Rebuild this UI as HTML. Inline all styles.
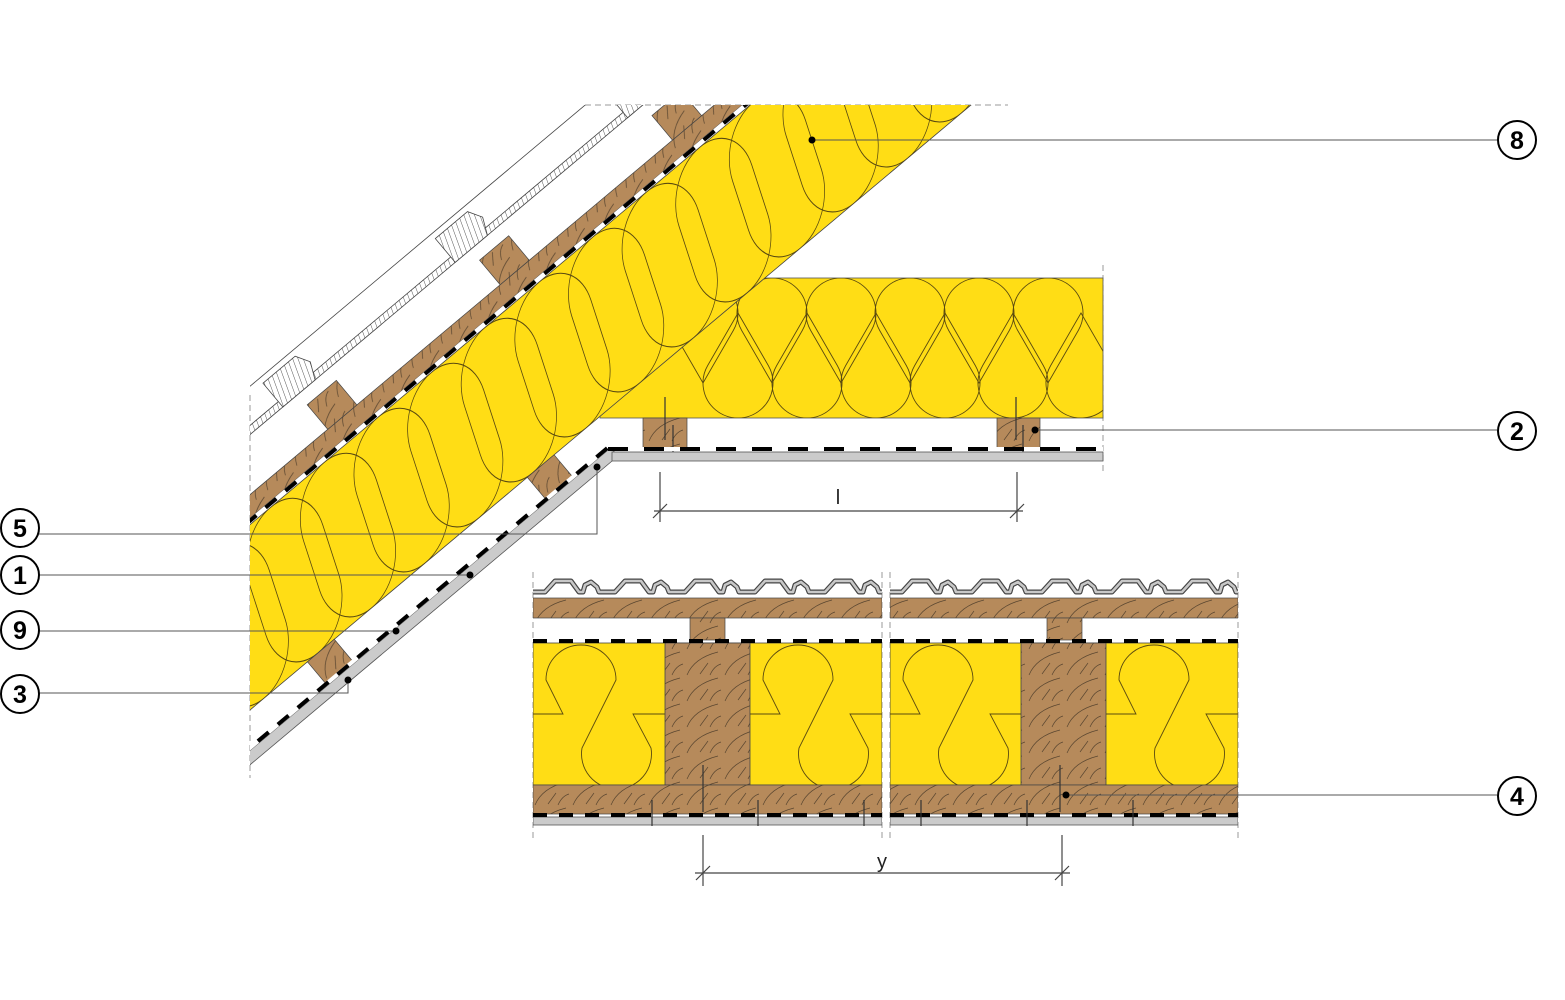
<!DOCTYPE html>
<html><head><meta charset="utf-8"><style>
html,body{margin:0;padding:0;background:#fff;}
svg{display:block;}
text{font-family:"Liberation Sans",sans-serif;}
</style></head><body>
<svg width="1565" height="1000" viewBox="0 0 1565 1000" xmlns="http://www.w3.org/2000/svg">
<defs>
  <pattern id="wood" patternUnits="userSpaceOnUse" width="38" height="26">
    <rect width="38" height="26" fill="#B68A5B"/>
    <path d="M3,25 Q10,8 34,2 M16,24 L24,13 M26,25 Q30,16 37,14" fill="none" stroke="#5a4630" stroke-width="0.7"/>
  </pattern>
  <pattern id="hatch" patternUnits="userSpaceOnUse" width="5" height="5" patternTransform="rotate(20)">
    <rect width="5" height="5" fill="#fff"/>
    <line x1="0" y1="0" x2="0" y2="5" stroke="#444" stroke-width="0.9"/>
  </pattern>
  <path id="tdDown" d="M0,70 L30.3,17.5 A35,35 0 1 0 -30.3,17.5 Z" fill="none" stroke="#5a4a10" stroke-width="0.9"/>
  <path id="tdUp" d="M0,-70 L30.3,-17.5 A35,35 0 1 1 -30.3,-17.5 Z" fill="none" stroke="#5a4a10" stroke-width="0.9"/>
  <clipPath id="cs"><rect x="250" y="105" width="900" height="720"/></clipPath>
  <clipPath id="ch"><rect x="600" y="278" width="503" height="140"/></clipPath>
  <clipPath id="cy"><rect x="-300" y="-142" width="1500" height="142"/></clipPath>
  <clipPath id="cp1"><rect x="533" y="570" width="349" height="270"/></clipPath>
  <clipPath id="cp2"><rect x="890" y="570" width="348" height="270"/></clipPath>
  <path id="keyhole" d="M0,71 L30,71 L13,37 A35,35 0 1 1 83,37 L49,105 A35,35 0 1 0 118,105 L100,71 L132,71" fill="none" stroke="#5a4a10" stroke-width="0.9"/>
  <path id="tprof" d="M0,13 L12,13 L22,2 L38,2 L46,13 L50,13 L52,6 L58,3 L64,8 L66,13 L70,13" fill="none" stroke="#444" stroke-width="5" stroke-linejoin="round"/>
  <path id="tprof2" d="M0,13 L12,13 L22,2 L38,2 L46,13 L50,13 L52,6 L58,3 L64,8 L66,13 L70,13" fill="none" stroke="#c8c8c8" stroke-width="2.6" stroke-linejoin="round"/>
</defs>

<line x1="585" y1="105" x2="1008" y2="105" stroke="#999" stroke-width="1" stroke-dasharray="6 4"/>
<line x1="250" y1="395" x2="250" y2="778" stroke="#999" stroke-width="1" stroke-dasharray="6 4"/>
<line x1="1103" y1="265" x2="1103" y2="475" stroke="#999" stroke-width="1" stroke-dasharray="6 4"/>

<rect x="600" y="278" width="503" height="140" fill="#FFDD15" stroke="#555" stroke-width="0.8"/>
<g clip-path="url(#ch)">
  <use href="#tdDown" x="703" y="313"/><use href="#tdDown" x="772" y="313"/><use href="#tdDown" x="841" y="313"/>
  <use href="#tdDown" x="910" y="313"/><use href="#tdDown" x="979" y="313"/><use href="#tdDown" x="1048" y="313"/>
  <use href="#tdUp" x="738" y="383"/><use href="#tdUp" x="807" y="383"/><use href="#tdUp" x="876" y="383"/>
  <use href="#tdUp" x="945" y="383"/><use href="#tdUp" x="1013" y="383"/><use href="#tdUp" x="1081" y="383"/>
</g>

<g clip-path="url(#cs)">
 <g transform="translate(250,710) rotate(-40)">
  <g stroke="#444" stroke-width="0.8">
    <rect x="-300" y="-218" width="1500" height="7" fill="url(#hatch)"/>
    <g fill="url(#hatch)">
      <path d="M-10,-211 L-10,-240 L30,-240 L38,-228 L30,-211 Z"/>
      <path d="M220,-211 L220,-242 L262,-242 L270,-228 L262,-211 Z"/>
      <path d="M445,-211 L445,-242 L487,-242 L495,-228 L487,-211 Z"/>
      <path d="M670,-211 L670,-242 L712,-242 L720,-228 L712,-211 Z"/>
      <path d="M895,-211 L895,-242 L937,-242 L945,-228 L937,-211 Z"/>
    </g>
    <path d="M-300,-248 L1200,-248" fill="none"/>
  </g>
  <rect x="-300" y="-165" width="1500" height="18" fill="url(#wood)" stroke="#444" stroke-width="0.7"/>
  <g fill="url(#wood)" stroke="#444" stroke-width="0.7">
    <rect x="15" y="-197" width="38" height="32"/>
    <rect x="240" y="-197" width="38" height="32"/>
    <rect x="465" y="-197" width="38" height="32"/>
    <rect x="690" y="-197" width="38" height="32"/>
  </g>
  <line x1="-300" y1="-145" x2="1200" y2="-145" stroke="#fff" stroke-width="4"/>
  <line x1="-300" y1="-145" x2="1200" y2="-145" stroke="#000" stroke-width="4" stroke-dasharray="14 12"/>
  <rect x="-300" y="-142" width="1500" height="142" fill="#FFDD15" stroke="#444" stroke-width="0.8"/>
  <g clip-path="url(#cy)">
  <g transform="translate(0,-71) skewX(-22) translate(0,71)" fill="none" stroke="#5a4a10" stroke-width="0.9">
    <rect x="-140" y="-142" width="95" height="142" rx="47"/><rect x="-70" y="-142" width="95" height="142" rx="47"/>
    <rect x="0" y="-142" width="95" height="142" rx="47"/><rect x="70" y="-142" width="95" height="142" rx="47"/>
    <rect x="140" y="-142" width="95" height="142" rx="47"/><rect x="210" y="-142" width="95" height="142" rx="47"/>
    <rect x="280" y="-142" width="95" height="142" rx="47"/><rect x="350" y="-142" width="95" height="142" rx="47"/>
    <rect x="420" y="-142" width="95" height="142" rx="47"/><rect x="490" y="-142" width="95" height="142" rx="47"/>
    <rect x="560" y="-142" width="95" height="142" rx="47"/><rect x="630" y="-142" width="95" height="142" rx="47"/>
    <rect x="700" y="-142" width="95" height="142" rx="47"/><rect x="770" y="-142" width="95" height="142" rx="47"/>
    <rect x="840" y="-142" width="95" height="142" rx="47"/><rect x="910" y="-142" width="95" height="142" rx="47"/>
    <rect x="980" y="-142" width="95" height="142" rx="47"/><rect x="1050" y="-142" width="95" height="142" rx="47"/>
  </g>
  </g>
  <g fill="url(#wood)" stroke="#444" stroke-width="0.7">
    <rect x="75" y="0" width="35" height="28"/>
    <rect x="362" y="0" width="35" height="28"/>
  </g>
  <rect x="-300" y="31" width="745" height="11" fill="#cbcbcb" stroke="#555" stroke-width="0.8"/>
  <line x1="-300" y1="29" x2="442" y2="29" stroke="#fff" stroke-width="4"/>
  <line x1="-300" y1="29" x2="442" y2="29" stroke="#000" stroke-width="4" stroke-dasharray="14 12"/>
 </g>
</g>

<rect x="643" y="418" width="44" height="31" fill="url(#wood)" stroke="#444" stroke-width="0.7"/>
<rect x="997" y="418" width="43" height="31" fill="url(#wood)" stroke="#444" stroke-width="0.7"/>
<g stroke="#333" stroke-width="1.2">
  <line x1="665" y1="397" x2="665" y2="440"/><line x1="673" y1="425" x2="673" y2="461"/>
  <line x1="1016" y1="397" x2="1016" y2="440"/><line x1="1023" y1="425" x2="1023" y2="461"/>
</g>
<rect x="612" y="452" width="491" height="9" fill="#cbcbcb" stroke="#555" stroke-width="0.8"/>
<line x1="608" y1="449" x2="1103" y2="449" stroke="#fff" stroke-width="4"/>
<line x1="608" y1="449" x2="1103" y2="449" stroke="#000" stroke-width="4" stroke-dasharray="20 16"/>

<g stroke="#444" stroke-width="1.2">
  <line x1="660" y1="472" x2="660" y2="522"/><line x1="1017" y1="472" x2="1017" y2="522"/>
  <line x1="654" y1="511" x2="1023" y2="511"/>
  <line x1="653" y1="518" x2="667" y2="504"/><line x1="1010" y1="518" x2="1024" y2="504"/>
</g>
<text x="838" y="504" font-size="20" text-anchor="middle" fill="#222">l</text>

<g stroke="#999" stroke-width="1" stroke-dasharray="6 4">
  <line x1="533" y1="572" x2="533" y2="840"/><line x1="882" y1="572" x2="882" y2="840"/>
  <line x1="890" y1="572" x2="890" y2="840"/><line x1="1238" y1="572" x2="1238" y2="840"/>
</g>
<g clip-path="url(#cp1)">
  <g transform="translate(533,579)">
    <use href="#tprof"/><use href="#tprof" x="70"/><use href="#tprof" x="140"/><use href="#tprof" x="210"/><use href="#tprof" x="280"/>
    <use href="#tprof2"/><use href="#tprof2" x="70"/><use href="#tprof2" x="140"/><use href="#tprof2" x="210"/><use href="#tprof2" x="280"/>
  </g>
  <rect x="533" y="598" width="349" height="20" fill="url(#wood)" stroke="#444" stroke-width="0.7"/>
  <rect x="690" y="618" width="35" height="22" fill="url(#wood)" stroke="#444" stroke-width="0.7"/>
  <rect x="533" y="643" width="349" height="142" fill="#FFDD15" stroke="#444" stroke-width="0.8"/>
  <use href="#keyhole" x="533" y="643"/><use href="#keyhole" x="750" y="643"/>
  <rect x="665" y="643" width="85" height="142" fill="url(#wood)" stroke="#444" stroke-width="0.8"/>
  <rect x="533" y="785" width="349" height="29" fill="url(#wood)" stroke="#444" stroke-width="0.7"/>
  <rect x="533" y="817" width="349" height="8" fill="#cbcbcb" stroke="#555" stroke-width="0.8"/>
  <line x1="533" y1="641" x2="882" y2="641" stroke="#000" stroke-width="4" stroke-dasharray="14 12"/>
  <line x1="533" y1="815" x2="882" y2="815" stroke="#000" stroke-width="4" stroke-dasharray="14 12"/>
  <g stroke="#333" stroke-width="1.2"><line x1="703" y1="765" x2="703" y2="812"/><line x1="652" y1="800" x2="652" y2="826"/><line x1="758" y1="800" x2="758" y2="826"/><line x1="864" y1="800" x2="864" y2="826"/></g>
</g>
<g clip-path="url(#cp2)">
  <g transform="translate(890,579)">
    <use href="#tprof"/><use href="#tprof" x="70"/><use href="#tprof" x="140"/><use href="#tprof" x="210"/><use href="#tprof" x="280"/>
    <use href="#tprof2"/><use href="#tprof2" x="70"/><use href="#tprof2" x="140"/><use href="#tprof2" x="210"/><use href="#tprof2" x="280"/>
  </g>
  <rect x="890" y="598" width="348" height="20" fill="url(#wood)" stroke="#444" stroke-width="0.7"/>
  <rect x="1047" y="618" width="35" height="22" fill="url(#wood)" stroke="#444" stroke-width="0.7"/>
  <rect x="890" y="643" width="348" height="142" fill="#FFDD15" stroke="#444" stroke-width="0.8"/>
  <use href="#keyhole" x="890" y="643"/><use href="#keyhole" x="1106" y="643"/>
  <rect x="1021" y="643" width="85" height="142" fill="url(#wood)" stroke="#444" stroke-width="0.8"/>
  <rect x="890" y="785" width="348" height="29" fill="url(#wood)" stroke="#444" stroke-width="0.7"/>
  <rect x="890" y="817" width="348" height="8" fill="#cbcbcb" stroke="#555" stroke-width="0.8"/>
  <line x1="890" y1="641" x2="1238" y2="641" stroke="#000" stroke-width="4" stroke-dasharray="14 12"/>
  <line x1="890" y1="815" x2="1238" y2="815" stroke="#000" stroke-width="4" stroke-dasharray="14 12"/>
  <g stroke="#333" stroke-width="1.2"><line x1="1060" y1="765" x2="1060" y2="812"/><line x1="921" y1="800" x2="921" y2="826"/><line x1="1027" y1="800" x2="1027" y2="826"/><line x1="1133" y1="800" x2="1133" y2="826"/></g>
</g>

<g stroke="#444" stroke-width="1.2">
  <line x1="703" y1="835" x2="703" y2="886"/><line x1="1062" y1="835" x2="1062" y2="886"/>
  <line x1="695" y1="873" x2="1070" y2="873"/>
  <line x1="696" y1="880" x2="710" y2="866"/><line x1="1055" y1="880" x2="1069" y2="866"/>
</g>
<text x="882" y="868" font-size="20" text-anchor="middle" fill="#222">y</text>

<g stroke="#555" stroke-width="1" fill="none">
  <line x1="812" y1="140" x2="1497" y2="140"/>
  <line x1="1035" y1="430" x2="1497" y2="430"/>
  <line x1="1066" y1="795" x2="1497" y2="795"/>
  <polyline points="39,534 597,534 597,467"/>
  <line x1="39" y1="575" x2="470" y2="575"/>
  <line x1="39" y1="631" x2="396" y2="631"/>
  <polyline points="39,693 348,693 348,680"/>
</g>
<g fill="#000">
  <circle cx="812" cy="140" r="3.5"/><circle cx="1035" cy="430" r="3.5"/><circle cx="1066" cy="795" r="3.5"/>
  <circle cx="597" cy="467" r="3.5"/><circle cx="470" cy="575" r="3.5"/><circle cx="396" cy="631" r="3.5"/><circle cx="348" cy="680" r="3.5"/>
</g>
<g fill="#fff" stroke="#000" stroke-width="2">
  <circle cx="1517" cy="140" r="19"/><circle cx="1517" cy="431" r="19"/><circle cx="1517" cy="796" r="19"/>
  <circle cx="20" cy="528" r="19"/><circle cx="20" cy="575" r="19"/><circle cx="20" cy="630" r="19"/><circle cx="20" cy="694" r="19"/>
</g>
<g font-size="25" font-weight="bold" text-anchor="middle" fill="#000">
  <text x="1517" y="149">8</text><text x="1517" y="440">2</text><text x="1517" y="805">4</text>
  <text x="20" y="537">5</text><text x="20" y="584">1</text><text x="20" y="639">9</text><text x="20" y="703">3</text>
</g>
</svg>
</body></html>
